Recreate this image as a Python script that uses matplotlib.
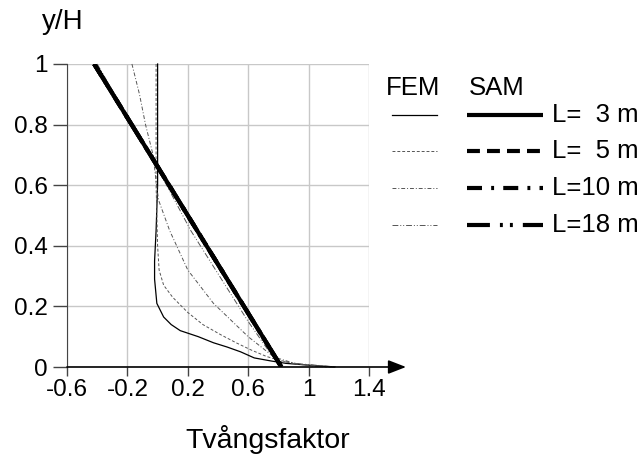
import matplotlib
matplotlib.use('Agg')
import matplotlib.pyplot as plt
from matplotlib.lines import Line2D
import numpy as np

plt.rcParams['font.family'] = ['Liberation Sans', 'DejaVu Sans']

# FEM results (x = Tvångsfaktor, y = y/H)
fem3_y = [1.0, 0.6, 0.45, 0.35, 0.29, 0.21, 0.165, 0.14, 0.12, 0.10, 0.08, 0.066, 0.05, 0.03, 0.02, 0.012, 0.006, 0.0]
fem3_x = [0.0, 0.0, -0.01, -0.02, -0.02, -0.005, 0.04, 0.09, 0.15, 0.27, 0.37, 0.46, 0.55, 0.64, 0.75, 0.85, 1.0, 1.17]

fem5_y = [1.0, 0.8, 0.6, 0.5, 0.4, 0.32, 0.27, 0.23, 0.18, 0.14, 0.106, 0.08, 0.056, 0.035, 0.023, 0.012, 0.005, 0.0]
fem5_x = [-0.01, -0.01, -0.01, -0.005, 0.0, 0.01, 0.04, 0.1, 0.2, 0.3, 0.42, 0.52, 0.62, 0.72, 0.8, 0.9, 1.0, 1.12]

fem10_y = [1.0, 0.9, 0.8, 0.7, 0.6, 0.55, 0.45, 0.32, 0.21, 0.1, 0.033, 0.01, 0.0]
fem10_x = [-0.17, -0.12, -0.08, -0.03, -0.007, 0.007, 0.08, 0.2, 0.37, 0.6, 0.77, 0.92, 1.15]

fem18_y = [1.0, 0.8, 0.67, 0.6, 0.45, 0.3, 0.15, 0.05, 0.02, 0.01, 0.0]
fem18_x = [-0.40, -0.17, -0.02, 0.06, 0.22, 0.41, 0.6, 0.74, 0.8, 0.95, 1.19]

# SAM (same straight line for all lengths)
sam_y = [1.0, 0.0]
sam_x = [-0.42, 0.82]

labels = ['L=  3 m', 'L=  5 m', 'L=10 m', 'L=18 m']
xticks = [-0.6, -0.2, 0.2, 0.6, 1, 1.4]
xticklabels = ['-0.6', '-0.2', '0.2', '0.6', '1', '1.4']
yticks = [0, 0.2, 0.4, 0.6, 0.8, 1]
yticklabels = ['0', '0.2', '0.4', '0.6', '0.8', '1']

W, H = 639, 455
fig = plt.figure(figsize=(W / 100, H / 100), dpi=100)
ax = fig.add_axes([67 / W, 1 - 367 / H, 302 / W, 303 / H])

fem_styles = [
    dict(color='black', lw=0.9, ls='-'),
    dict(color='#555555', lw=0.7, dashes=(3, 2)),
    dict(color='#555555', lw=0.7, dashes=(4, 2, 1, 2)),
    dict(color='#555555', lw=0.7, dashes=(6, 2, 1, 2, 1, 2)),
]
sam_styles = [
    dict(color='black', lw=3, ls='-'),
    dict(color='black', lw=3, dashes=(3.1, 1.7)),
    dict(color='black', lw=3, dashes=(3.6, 2.2, 0.7, 2.2)),
    dict(color='black', lw=3, dashes=(5.5, 2.4, 0.7, 1.7, 0.7, 2.4)),
]

fem_data = [(fem3_x, fem3_y), (fem5_x, fem5_y), (fem10_x, fem10_y), (fem18_x, fem18_y)]
for (fx, fy), st in zip(fem_data, fem_styles):
    ax.plot(fx, fy, **st, clip_on=False, zorder=3)
for st in sam_styles[::-1]:
    ax.plot(sam_x, sam_y, solid_capstyle='butt', dash_capstyle='butt', **st, zorder=4)

ax.set_xlim(-0.6, 1.4)
ax.set_ylim(0, 1)
ax.set_xticks(xticks)
ax.set_xticklabels(xticklabels)
ax.set_yticks(yticks)
ax.set_yticklabels(yticklabels)
ax.grid(True, color='#c8c8c8', lw=1.0)
ax.set_axisbelow(True)
for s in ['top', 'right', 'bottom']:
    ax.spines[s].set_visible(False)
ax.spines['left'].set_color('#444444')
ax.tick_params(axis='x', length=6.5, width=1, color='#444444', labelsize=17.5, pad=2)
ax.tick_params(axis='y', length=10, width=1, color='#444444', labelsize=17.5, pad=4)

# x axis with arrow
ax.annotate('', xy=(1.645, 0), xytext=(-0.6, 0), xycoords='data',
            arrowprops=dict(arrowstyle='-|>,head_length=0.9,head_width=0.35',
                            lw=1.2, color='black', mutation_scale=12,
                            shrinkA=0, shrinkB=0),
            annotation_clip=False, zorder=5)

fig.text(63 / W, 1 - 22 / H, 'y/H', fontsize=20, ha='center', va='center')
fig.text(268 / W, 1 - 440 / H, 'Tvångsfaktor', fontsize=20.5, ha='center', va='center')

# legend drawn by hand
fig.text(413 / W, 1 - 88 / H, 'FEM', fontsize=18.5, ha='center', va='center')
fig.text(497 / W, 1 - 88 / H, 'SAM', fontsize=18.5, ha='center', va='center')
rows = [115, 151, 188, 225]
for r, lab, fs, ss in zip(rows, labels, fem_styles, sam_styles):
    yy = 1 - r / H
    fig.add_artist(Line2D([392 / W, 437 / W], [yy, yy], **fs))
    fig.add_artist(Line2D([467 / W, 543 / W], [yy, yy], solid_capstyle='butt',
                          dash_capstyle='butt', **ss))
    fig.text(552 / W, yy, lab, fontsize=18.5, ha='left', va='center')

fig.savefig('out.png', dpi=100)
